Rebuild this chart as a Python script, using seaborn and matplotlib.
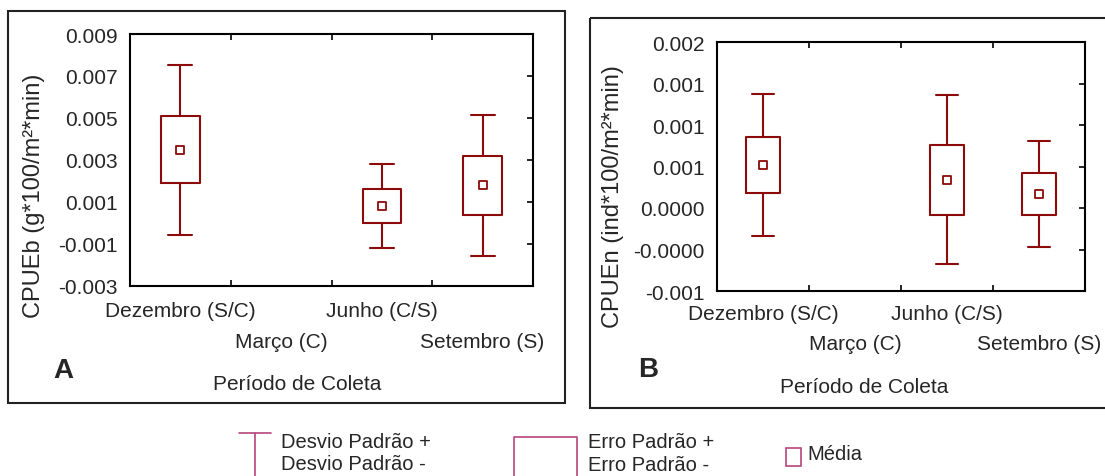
import numpy as np
import pandas as pd
import seaborn as sns
import matplotlib.pyplot as plt
from matplotlib.patches import Rectangle

# --- dados (média, erro padrão, desvio padrão) ---
periods = ["Dezembro (S/C)", "Março (C)", "Junho (C/S)", "Setembro (S)"]

mean_a = [0.00349, np.nan, 0.00081, 0.00179]
se_a = [0.00160, np.nan, 0.00083, 0.00140]
sd_a = [0.00404, np.nan, 0.00198, 0.00336]

mean_b = [0.000518, np.nan, 0.000342, 0.000169]
se_b = [0.000337, np.nan, 0.000422, 0.000251]
sd_b = [0.000857, np.nan, 0.001014, 0.000633]

yticks_a = [-0.003, -0.001, 0.001, 0.003, 0.005, 0.007, 0.009]
ylabels_a = ["-0.003", "-0.001", "0.001", "0.003", "0.005", "0.007", "0.009"]
yticks_b = [-0.001, -0.0005, 0.0, 0.0005, 0.001, 0.0015, 0.002]
ylabels_b = ["-0.001", "-0.0000", "0.0000", "0.001", "0.001", "0.001", "0.002"]

RED = "#8C0A0A"
PINK = "#B5457F"
W, H = 1105, 477

sns.set_style("white")
plt.rcParams["font.family"] = ["Liberation Sans", "DejaVu Sans"]


def draw_panel(ax, mean, se, sd, yticks, ylabels, pads):
    df = pd.DataFrame({"periodo": periods, "media": mean, "se": se, "sd": sd})
    df["pos"] = np.arange(len(df))
    ok = df.dropna()
    stats = [dict(med=r.media, q1=r.media - r.se, q3=r.media + r.se,
                  whislo=r.media - r.sd, whishi=r.media + r.sd, fliers=[])
             for r in ok.itertuples()]
    props = dict(color=RED, linewidth=1.5)
    ax.bxp(stats, positions=ok["pos"].tolist(), widths=0.38, capwidths=0.24,
           showfliers=False, manage_ticks=False, boxprops=props,
           whiskerprops=props, capprops=props, medianprops=dict(linewidth=0))
    sns.scatterplot(data=ok, x="pos", y="media", marker="s", s=26,
                    color="white", edgecolor=RED, linewidth=1.3, ax=ax, zorder=5)
    ax.set_xlim(-0.5, 3.5)
    ax.set_ylim(yticks[0], yticks[-1])
    ax.set_yticks(yticks, ylabels)
    ax.set_xticks(range(len(periods)), periods)
    ax.set_xticks([0.5, 1.5, 2.5], minor=True)
    ax.set_xlabel("")
    ax.set_ylabel("")
    ax.tick_params(axis="x", which="major", length=0, labelsize=15)
    ax.tick_params(axis="x", which="minor", direction="in", length=4,
                   width=1.4, top=True, bottom=True)
    ax.tick_params(axis="y", direction="in", length=4, width=1.4,
                   right=True, labelsize=15, pad=9)
    # rótulos das categorias em duas linhas alternadas
    for i, t in enumerate(ax.xaxis.get_major_ticks()):
        t.set_pad(pads[i % 2])
    for sp in ax.spines.values():
        sp.set_linewidth(1.5)
        sp.set_color("black")


def px_axes(left, top, right, bottom):
    return fig.add_axes([left / W, 1 - bottom / H, (right - left) / W, (bottom - top) / H])


fig = plt.figure(figsize=(W / 100, H / 100), dpi=100)

# camada para molduras, rótulos e legenda (coordenadas em pixels)
ov = fig.add_axes([0, 0, 1, 1], zorder=0)
ov.set_xlim(0, W)
ov.set_ylim(H, 0)
ov.axis("off")

ax_a = px_axes(130, 35, 533, 287)
ax_b = px_axes(717, 43, 1085, 292)
draw_panel(ax_a, mean_a, se_a, sd_a, yticks_a, ylabels_a, pads=(10.5, 33))
draw_panel(ax_b, mean_b, se_b, sd_b, yticks_b, ylabels_b, pads=(9, 31))

# molduras dos painéis
ov.add_patch(Rectangle((8, 12), 557, 392, fill=False, ec="#222222", lw=1.5))
ov.add_patch(Rectangle((590, 18.5), 530, 390, fill=False, ec="#222222", lw=1.5,
                       clip_on=False))

ov.text(34.5, 196, "CPUEb (g*100/m²*min)", rotation=90, ha="center", va="center", fontsize=17)
ov.text(613, 196.5, "CPUEn (ind*100/m²*min)", rotation=90, ha="center", va="center", fontsize=17)
ov.text(53, 378, "A", fontsize=20, fontweight="bold", va="baseline")
ov.text(638, 377, "B", fontsize=20, fontweight="bold", va="baseline")
ov.text(297.6, 390, "Período de Coleta", ha="center", va="baseline", fontsize=15)
ov.text(864, 393, "Período de Coleta", ha="center", va="baseline", fontsize=15)

# legenda
ov.plot([239, 271], [434, 434], color=PINK, lw=1.2)
ov.plot([255, 255], [434, 477], color=PINK, lw=1.2)
ov.text(281, 448, "Desvio Padrão +", fontsize=14.5, va="baseline")
ov.text(281, 470, "Desvio Padrão -", fontsize=14.5, va="baseline")
ov.plot([514, 514, 577, 577], [477, 438, 438, 477], color=PINK, lw=1.2)
ov.text(588, 448, "Erro Padrão +", fontsize=14.5, va="baseline")
ov.text(588, 471, "Erro Padrão -", fontsize=14.5, va="baseline")
ov.add_patch(Rectangle((786, 449), 15, 18, fill=False, ec=PINK, lw=1.2))
ov.text(807.6, 460, "Média", fontsize=14.5, va="baseline")

fig.savefig("out.png", dpi=100)
